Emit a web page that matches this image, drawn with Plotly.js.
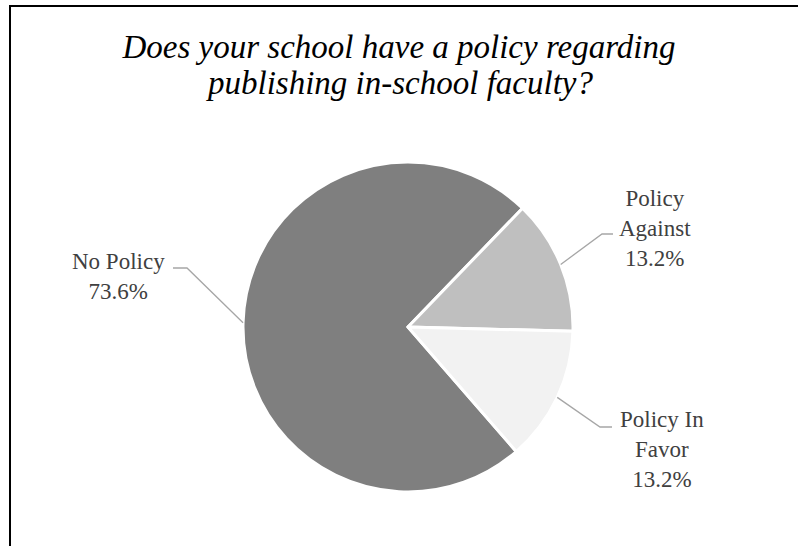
<!DOCTYPE html>
<html>
<head>
<meta charset="utf-8">
<script src="https://cdn.plot.ly/plotly-3.0.1.min.js"></script>
<style>html,body{margin:0;padding:0;background:#fff;}#chart{width:798px;height:546px;}</style>
</head>
<body>
<div id="chart"></div>
<script>
// ---- data ----
var categories = ['No Policy', 'Policy Against', 'Policy In Favor'];
var shares = [73.6, 13.2, 13.2];
var labelLines = ['No Policy', 'Policy<br>Against', 'Policy In<br>Favor'];
var sliceColors = ['#7f7f7f', '#bfbfbf', '#f2f2f2'];
var titleLines = ['Does your school have a policy regarding', 'publishing in-school faculty?'];

// ---- layout config (pixels) ----
var W = 798, H = 546;
var CX = 408, CY = 327, R = 165;
var ROT = 139;
var FONT = "'Liberation Serif', 'Times New Roman', Times, serif";
// label centre, leader elbow, leader end (layout only)
var labelCfg = [
  {x: 118, y: 276, elbow: [187, 268], end: [173, 268]},
  {x: 655, y: 228, elbow: [602, 234], end: [613, 234]},
  {x: 662, y: 449, elbow: [600, 427], end: [612, 427]}
];

function px(x) { return x / W; }
function py(y) { return 1 - y / H; }

var total = shares.reduce(function (a, b) { return a + b; }, 0);
var annotations = [];
var shapes = [];
var cum = 0;
for (var i = 0; i < shares.length; i++) {
  var mid = ROT + (cum + shares[i] / 2) / total * 360;
  cum += shares[i];
  var th = mid * Math.PI / 180;
  var ax = CX + R * Math.sin(th), ay = CY - R * Math.cos(th);
  var c = labelCfg[i];
  shapes.push({
    type: 'path', xref: 'paper', yref: 'paper',
    path: 'M' + px(ax) + ',' + py(ay) + ' L' + px(c.elbow[0]) + ',' + py(c.elbow[1]) +
          ' L' + px(c.end[0]) + ',' + py(c.end[1]),
    line: {color: '#a6a6a6', width: 1.3}
  });
  annotations.push({
    xref: 'paper', yref: 'paper', x: px(c.x), y: py(c.y),
    xanchor: 'center', yanchor: 'middle', showarrow: false, align: 'center',
    text: labelLines[i] + '<br>' + shares[i].toFixed(1) + '%',
    font: {family: FONT, size: 23, color: '#404040'}
  });
}
// second title line (tighter line spacing than Plotly's default)
annotations.push({
  xref: 'paper', yref: 'paper', x: px(399), y: py(83),
  xanchor: 'center', yanchor: 'middle', showarrow: false,
  text: '<i>' + titleLines[1] + '</i>',
  font: {family: FONT, size: 33, color: '#000'}
});
// chart border
shapes.push({type: 'rect', xref: 'paper', yref: 'paper', x0: px(10), x1: 1.2, y0: -0.2, y1: py(6),
  line: {color: '#000', width: 2}, fillcolor: 'rgba(0,0,0,0)'});

var trace = {
  type: 'pie',
  labels: categories,
  values: shares,
  sort: false,
  direction: 'clockwise',
  rotation: ROT,
  textinfo: 'none',
  hoverinfo: 'label+percent',
  marker: {colors: sliceColors, line: {color: '#ffffff', width: 3}},
  domain: {x: [px(CX - R), px(CX + R)], y: [py(CY + R), py(CY - R)]},
  showlegend: false
};

var layout = {
  width: W, height: H,
  margin: {l: 0, r: 0, t: 0, b: 0},
  paper_bgcolor: '#fff',
  showlegend: false,
  title: {
    text: '<i>' + titleLines[0] + '</i>',
    xref: 'paper', yref: 'paper', x: px(399), xanchor: 'center',
    y: py(46), yanchor: 'middle',
    font: {family: FONT, size: 33, color: '#000'}
  },
  annotations: annotations,
  shapes: shapes
};

Plotly.newPlot('chart', [trace], layout, {displayModeBar: false, staticPlot: true});
</script>
</body>
</html>
